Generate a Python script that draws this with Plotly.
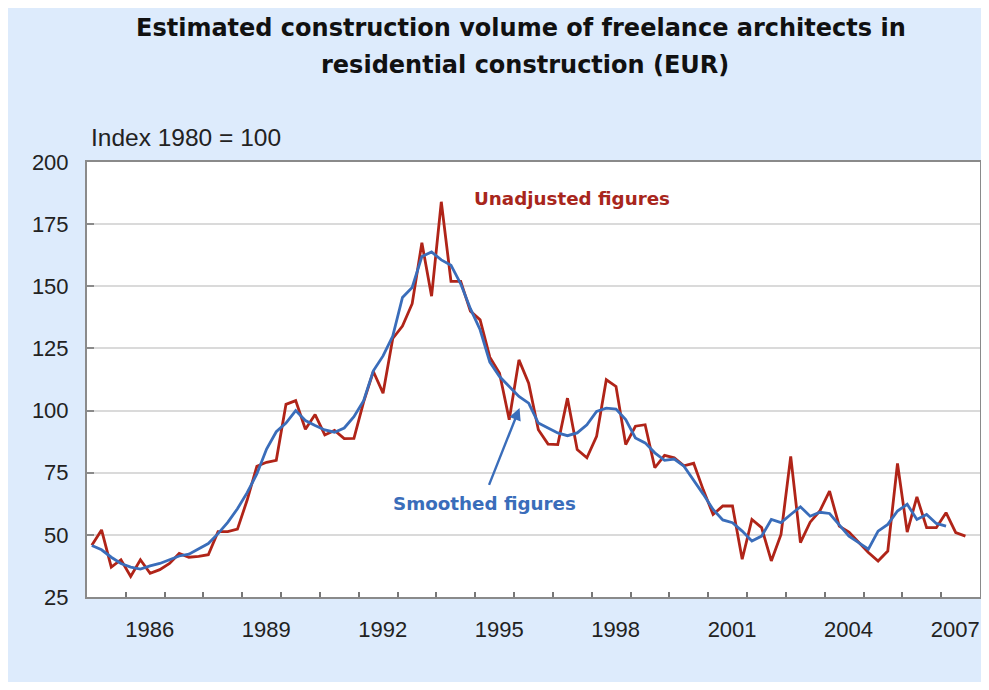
import plotly.graph_objects as go

# ---------------- data (quarterly index, 1980 = 100) ----------------
start_year = 1985
unadjusted = [
    45.8, 52.0, 37.0, 40.0,      # 1985
    33.3, 40.0, 34.5, 36.0,      # 1986
    38.5, 42.5, 41.0, 41.3,      # 1987
    42.0, 51.3, 51.3, 52.3,      # 1988
    64.0, 77.6, 79.2, 80.0,      # 1989
    102.5, 104.0, 92.5, 98.4,    # 1990
    90.2, 92.0, 88.7, 88.8,      # 1991
    103.5, 115.7, 107.0, 129.0,  # 1992
    134.0, 143.0, 167.5, 146.0,  # 1993
    184.0, 152.0, 152.0, 140.0,  # 1994
    136.5, 121.5, 115.0, 96.3,   # 1995
    120.4, 111.0, 92.3, 86.5,    # 1996
    86.3, 105.0, 84.3, 81.0,     # 1997
    89.6, 112.4, 109.7, 86.3,    # 1998
    93.7, 94.3, 77.0, 82.0,      # 1999
    81.0, 77.8, 78.8, 68.0,      # 2000
    58.2, 61.6, 61.6, 40.2,      # 2001
    56.2, 52.9, 39.5, 50.2,      # 2002
    81.6, 46.9, 55.1, 59.6,      # 2003
    67.6, 53.5, 51.1, 47.1,      # 2004
    42.9, 39.5, 43.5, 78.7,      # 2005
    51.1, 65.3, 52.9, 52.9,      # 2006
    58.9, 50.9, 49.5,            # 2007
]
smoothed = [
    45.7, 44.0, 41.0, 38.5,
    37.0, 36.2, 37.5, 38.5,
    40.0, 41.5, 42.2, 44.5,
    46.5, 50.5, 55.0, 60.5,
    67.0, 74.5, 84.5, 91.5,
    95.0, 100.0, 96.0, 94.0,
    92.2, 91.3, 93.0, 97.5,
    104.0, 116.0, 122.0, 130.0,
    145.5, 149.5, 162.0, 163.8,
    160.6, 158.5, 151.0, 141.0,
    132.5, 119.5, 113.7, 109.7,
    105.7, 103.0, 95.0, 93.0,
    91.0, 89.9, 91.0, 94.3,
    99.7, 101.0, 100.6, 96.4,
    89.0, 87.0, 83.0, 80.0,
    80.5, 77.6, 72.0, 66.3,
    60.2, 56.0, 54.9, 51.5,
    47.5, 49.5, 56.2, 54.9,
    58.2, 61.3, 57.5, 59.1,
    58.6, 54.2, 49.5, 46.9,
    44.2, 51.5, 54.2, 59.6,
    62.3, 56.2, 58.2, 54.6,
    53.5,
]
tick_years = ["1986", "1989", "1992", "1995", "1998", "2001", "2004", "2007"]
y_ticks = [25, 50, 75, 100, 125, 150, 175, 200]

title_line1 = "Estimated construction volume of freelance architects in"
title_line2 = "residential construction (EUR)"
unit_label = "Index 1980 = 100"
label_unadj = "Unadjusted figures"
label_smooth = "Smoothed figures"

# quarter positions (centre of each quarter on a continuous year axis)
def qpos(n):
    return [start_year + (i + 0.5) / 4 for i in range(n)]

x_unadj = qpos(len(unadjusted))
x_smooth = qpos(len(smoothed))

# label positions: a little right of mid-year; the last one kept inside the page
label_pos = [int(y) + 0.615 for y in tick_years]
label_pos[-1] = int(tick_years[-1]) + 0.36

RED = "#B02418"
BLUE = "#3A6DBA"
PANEL = "#DDEBFC"
TXT = "#222222"

fig = go.Figure()
fig.add_trace(go.Scatter(x=x_unadj, y=unadjusted, mode="lines",
                         line=dict(color=RED, width=2.8), name=label_unadj,
                         hoverinfo="skip"))
fig.add_trace(go.Scatter(x=x_smooth, y=smoothed, mode="lines",
                         line=dict(color=BLUE, width=2.8), name=label_smooth,
                         hoverinfo="skip"))

# the page body adds an 8px margin on every side; keep the figure inside the window
OFF = 8
W, H = 989 - 2 * OFF, 690 - 2 * OFF
L, T = 87 - OFF, 162 - OFF
R = W - (980 - OFF)
B = H - (597 - OFF)
pw, ph = W - L - R, H - T - B

def px(xp):  # page pixel -> paper x
    return (xp - OFF - L) / pw

def py(yp):  # page pixel -> paper y
    return (H - B - (yp - OFF)) / ph

annotations = [
    dict(text=f"<b>{title_line1}</b>", xref="paper", yref="paper",
         x=px(521), y=py(28), xanchor="center", yanchor="middle",
         showarrow=False, font=dict(family="DejaVu Sans", size=24, color="#111111")),
    dict(text=f"<b>{title_line2}</b>", xref="paper", yref="paper",
         x=px(525), y=py(65), xanchor="center", yanchor="middle",
         showarrow=False, font=dict(family="DejaVu Sans", size=24, color="#111111")),
    dict(text=unit_label, xref="paper", yref="paper",
         x=px(89), y=py(138), xanchor="left", yanchor="middle",
         showarrow=False, font=dict(family="Liberation Sans", size=24.5, color=TXT)),
    dict(text=f"<b>{label_unadj}</b>", xref="x", yref="y",
         x=1997.49, y=185.4, xanchor="center", yanchor="middle",
         showarrow=False, font=dict(family="DejaVu Sans", size=18.3, color="#A8261C")),
    dict(text=f"<b>{label_smooth}</b>", xref="x", yref="y",
         x=1995.23, y=62.8, xanchor="center", yanchor="middle",
         showarrow=False, font=dict(family="DejaVu Sans", size=18.3, color=BLUE)),
    dict(text="", xref="x", yref="y", axref="x", ayref="y",
         x=1996.14, y=101.0, ax=1995.34, ay=69.5,
         showarrow=True, arrowhead=2, arrowsize=1, arrowwidth=2.4,
         arrowcolor=BLUE),
]

fig.update_layout(
    width=W, height=H,
    margin=dict(l=L, r=R, t=T, b=B, pad=0, autoexpand=False),
    paper_bgcolor=PANEL, plot_bgcolor="white",
    showlegend=False,
    annotations=annotations,
    font=dict(family="Liberation Sans", color=TXT),
)

fig.update_xaxes(
    range=[1985, 2008],
    automargin=False,
    tickmode="array",
    tickvals=label_pos,
    ticktext=tick_years,
    ticks="", showgrid=False, zeroline=False,
    tickfont=dict(family="Liberation Sans", size=22, color=TXT),
    ticklabelstandoff=12,
    ticklabeloverflow="allow",
    showline=True, linecolor="#8A8A8A", linewidth=2, mirror=True,
    minor=dict(tickmode="array",
               tickvals=list(range(1986, 2008)),
               ticks="inside", ticklen=5, tickwidth=1.5, tickcolor="#777777",
               showgrid=False),
)

fig.update_yaxes(
    range=[25, 200],
    automargin=False,
    tickmode="array", tickvals=y_ticks,
    ticks="inside", ticklen=7, tickwidth=1.5, tickcolor="#8A8A8A",
    showgrid=True, gridcolor="#DADADA", gridwidth=2,
    zeroline=False,
    tickfont=dict(family="Liberation Sans", size=22, color=TXT),
    ticklabelstandoff=12,
    showline=True, linecolor="#8A8A8A", linewidth=2, mirror=True,
)

fig.write_html("out.html")
